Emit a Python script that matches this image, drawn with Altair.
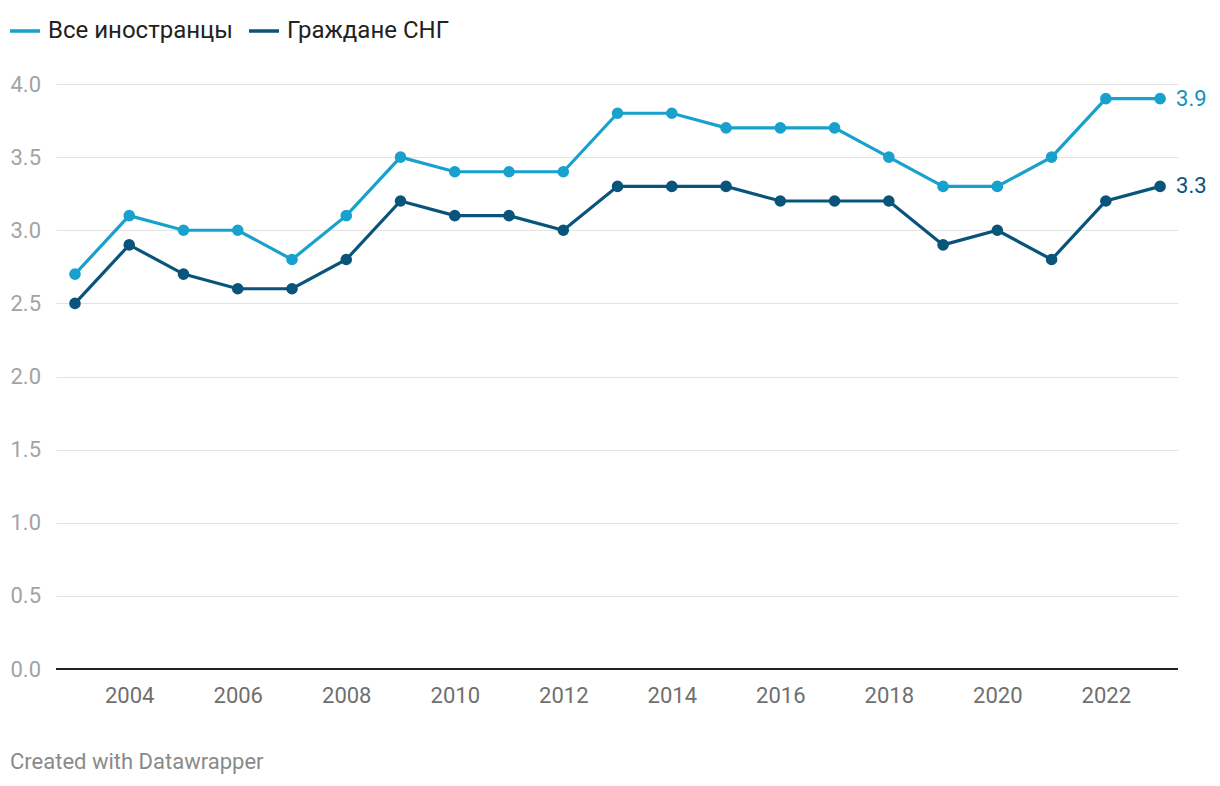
import altair as alt
import pandas as pd

years = list(range(2003, 2024))
all_foreigners = [2.7, 3.1, 3.0, 3.0, 2.8, 3.1, 3.5, 3.4, 3.4, 3.4, 3.8, 3.8, 3.7, 3.7, 3.7, 3.5, 3.3, 3.3, 3.5, 3.9, 3.9]
cis_citizens = [2.5, 2.9, 2.7, 2.6, 2.6, 2.8, 3.2, 3.1, 3.1, 3.0, 3.3, 3.3, 3.3, 3.2, 3.2, 3.2, 2.9, 3.0, 2.8, 3.2, 3.3]
series_names = ["Все иностранцы", "Граждане СНГ"]
series_colors = ["#18a1cd", "#09547a"]
label_colors = ["#1590be", "#09547a"]
x_ticks = list(range(2004, 2023, 2))
y_ticks = [0, 0.5, 1.0, 1.5, 2.0, 2.5, 3.0, 3.5, 4.0]
footer = "Created with Datawrapper"

rows = []
for y, a, c in zip(years, all_foreigners, cis_citizens):
    rows.append({"year": y, "value": a, "series": series_names[0]})
    rows.append({"year": y, "value": c, "series": series_names[1]})
df = pd.DataFrame(rows)

W, H = 1122, 585
FONT = "Roboto"

x_axis = alt.Axis(values=x_ticks, format="d", title=None, grid=False, domain=False,
                  ticks=False, labelPadding=16, labelFontSize=22, labelColor="#6f6f6f",
                  labelFont=FONT)
y_axis = alt.Axis(values=y_ticks, format=".1f", title=None, domain=False, ticks=False,
                  labelAlign="left", labelPadding=46, labelFontSize=22,
                  labelColor="#a3a3a3", labelFont=FONT, labelBaseline="middle",
                  gridColor="#e3e3e3", gridWidth=1)
xs = alt.Scale(domain=[2002.65, 2023.33], nice=False, zero=False)
ys = alt.Scale(domain=[0, 4], nice=False)
x = alt.X("year:Q", scale=xs, axis=x_axis)
y = alt.Y("value:Q", scale=ys, axis=y_axis)
color = alt.Color("series:N", scale=alt.Scale(domain=series_names, range=series_colors),
                  legend=alt.Legend(title=None, orient="none", direction="horizontal",
                                    legendX=-48, legendY=-70, symbolType="stroke",
                                    symbolSize=900, symbolStrokeWidth=3.5,
                                    labelFontSize=24, labelFont=FONT, labelColor="#222222",
                                    labelLimit=0, labelOffset=6, columnPadding=9,
                                    symbolOpacity=1))

base = alt.Chart(df)
lines = base.mark_line(strokeWidth=3.2).encode(x=x, y=y, color=color)
points = base.mark_circle(size=135, opacity=1).encode(x=x, y=y, color=color)
label_expr = f"datum.series == '{series_names[0]}' ? '{label_colors[0]}' : '{label_colors[1]}'"
labels = base.transform_filter(alt.datum.year == years[-1]).transform_calculate(
    lc=label_expr).mark_text(
    align="left", baseline="middle", dx=16, fontSize=22, font=FONT).encode(
    x=x, y=y, text=alt.Text("value:Q", format=".1f"),
    color=alt.Color("lc:N", scale=None))
baseline = alt.Chart(pd.DataFrame({"v": [0]})).mark_rule(color="#222222", strokeWidth=2).encode(
    y=alt.Y("v:Q", scale=ys, axis=y_axis))
foot = alt.Chart(pd.DataFrame({"t": [footer]})).mark_text(
    align="left", baseline="middle", fontSize=22, font=FONT, color="#8a8a8a").encode(
    text="t:N", x=alt.value(-46), y=alt.value(678))

chart = alt.layer(baseline, lines, points, labels, foot).properties(
    width=W, height=H,
    autosize=alt.AutoSizeParams(type="none"),
    padding={"left": 48, "top": 76, "right": 34, "bottom": 105},
).configure(font=FONT).configure_view(stroke=None, strokeWidth=0).configure_axisX(
    grid=False, domain=False
)

chart.save("out.html", embed_options={"renderer": "svg", "actions": False})
